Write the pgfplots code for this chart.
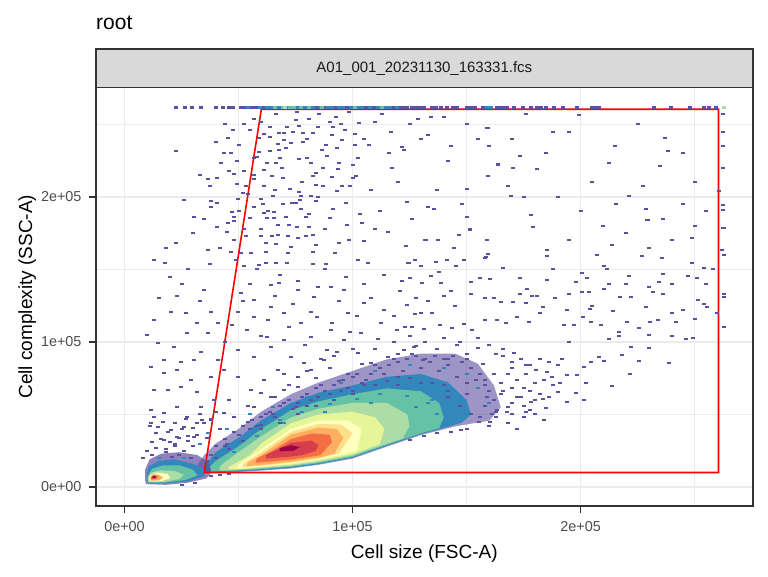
\documentclass[border=0pt]{standalone}
\usepackage{fontspec}
\setmainfont{Liberation Sans}
\usepackage{pgfplots}
\pgfplotsset{compat=1.18}
\definecolor{sp1}{HTML}{5E4FA2}
\definecolor{sp2}{HTML}{3288BD}
\definecolor{sp3}{HTML}{66C2A5}
\definecolor{sp4}{HTML}{ABDDA4}
\definecolor{sp5}{HTML}{E6F598}
\definecolor{sp6}{HTML}{FFFFBF}
\definecolor{sp7}{HTML}{FEE08B}
\definecolor{sp8}{HTML}{FDAE61}
\definecolor{sp9}{HTML}{F46D43}
\definecolor{sp10}{HTML}{D53E4F}
\definecolor{sp11}{HTML}{9E0142}
\definecolor{gridc}{HTML}{EBEBEB}
\definecolor{framec}{HTML}{333333}
\definecolor{tickc}{HTML}{4D4D4D}
\definecolor{stripc}{HTML}{D9D9D9}
\definecolor{striptext}{HTML}{1A1A1A}
\pgfdeclareplotmark{cell}{\pgfpathrectangle{\pgfqpoint{-2pt}{-1pt}}{\pgfqpoint{4pt}{2pt}}\pgfusepathqfill}
\pgfdeclareplotmark{rowcell}{\pgfpathrectangle{\pgfqpoint{-2pt}{-1.3pt}}{\pgfqpoint{4pt}{2.6pt}}\pgfusepathqfill}
\begin{document}
\begin{tikzpicture}
\useasboundingbox (0pt,0pt) rectangle (768pt,576pt);
\fill[white] (0pt,0pt) rectangle (768pt,576pt);
\begin{axis}[at={(96pt,70pt)}, anchor=south west, scale only axis,
  width=656.7pt, height=418.5pt,
  xmin=-12.5, xmax=275.5, ymin=-13.1, ymax=275.5,
  xtick={0,100,200}, ytick={0,100,200},
  minor xtick={50,150,250}, minor ytick={50,150,250},
  xticklabels={0e+00,1e+05,2e+05}, yticklabels={0e+00,1e+05,2e+05},
  grid=both,
  major grid style={gridc, line width=1.4pt},
  minor grid style={gridc, line width=0.7pt},
  tick align=outside, major tick length=7pt, minor tick length=0pt,
  xtick pos=lower, ytick pos=lower,
  tick style={framec, line width=1.5pt},
  axis line style={framec, line width=1.8pt},
  ticklabel style={font=\fontsize{14.4}{17}\selectfont, text=tickc},
  xticklabel style={yshift=-5pt},
  yticklabel style={xshift=-4pt},
  /pgf/number format/assume math mode=true,
  clip=true]
% ---- main population density bands (x, y in thousands)
\addplot[draw=none, fill=sp1, fill opacity=0.6, forget plot] coordinates {(33,9.5)(50,10.4)(60,11.3)(73,12.8)(85,15.3)(100,19.6)(115,27.8)(130,35.8)(145,41.8)(160,45.8)(165,55)(162,70)(155,85)(145,92)(130,92)(115,88)(100,80)(85,72)(73,64)(60,52)(50,40)(40,30)(35,22)(32,15)};
\addplot[only marks, mark=cell, mark options={fill=sp1, draw=none}, forget plot] coordinates {
(40,28)(44,33)(48,38)(52,42)(56,46)(60,48)(64,52)(68,56)(72,60)(76,58)(80,64)(84,68)(88,66)(92,70)(96,74)(100,76)(104,72)(108,78)(112,82)(116,84)(120,86)(124,88)(128,90)(132,88)(136,90)(140,88)(144,90)(148,86)(152,82)(156,78)(158,74)(160,66)(162,60)(163,52)(150,72)(146,76)(138,80)(130,82)(122,80)(114,78)(106,74)(98,68)(90,64)(82,60)(74,54)(66,48)(58,42)(50,36)(44,28)(38,22)(36,18)(152,50)(156,48)(158,56)(150,64)(142,62)(130,72)(120,76)(110,70)(100,66)(92,60)(84,56)(76,50)(68,44)(60,40)(52,32)(46,26)(40,20)
(54,45)(62,50)(70,58)(78,62)(86,70)(94,73)(102,78)(110,84)(118,88)(126,92)(134,86)(142,84)(150,88)(154,74)(159,62)(161,50)};
\addplot[draw=none, fill=sp2, forget plot] coordinates {(35.5,10)(50,10.9)(60,11.8)(73,13.3)(85,15.8)(100,20.2)(115,28.4)(130,36.4)(142,41.6)(148,44.5)(152,50)(150,60)(142,72)(130,78)(115,76)(100,70)(85,65)(73,58)(60,46)(50,34)(40,24)(37,18)(35,14)};
\addplot[only marks, mark=cell, mark options={fill=sp1, draw=none}, forget plot] coordinates {
(45,30)(55,40)(65,50)(75,55)(85,62)(95,66)(105,70)(115,73)(125,75)(135,72)(142,66)(147,56)(140,70)(120,70)(100,64)(80,56)(60,43)};
\addplot[draw=none, fill=sp3, forget plot] coordinates {(38,10.6)(50,11.4)(60,12.3)(73,13.9)(85,16.4)(100,20.8)(115,29)(130,37)(138,40.5)(140,48)(138,58)(130,66)(115,68)(100,64)(85,59)(73,53)(60,40)(50,28)(40,18)(37.5,14)};
\addplot[only marks, mark=cell, mark options={fill=sp2, draw=none}, forget plot] coordinates {
(48,24)(58,35)(68,46)(78,52)(90,57)(102,61)(112,64)(124,63)(133,58)(137,50)(128,55)(108,58)(88,52)(70,44)};
\addplot[draw=none, fill=sp4, forget plot] coordinates {(42,11.2)(50,11.9)(60,12.9)(73,14.6)(85,17.1)(100,21.6)(115,29.8)(122,33.5)(125,42)(124,50)(115,58)(100,58)(85,54)(73,48)(60,35)(50,24)(43,16)(41.5,13)};
\addplot[draw=none, fill=sp5, forget plot] coordinates {(46,12)(55,12.8)(60,13.5)(73,15.3)(85,17.9)(100,22.5)(112,29.5)(114,40)(110,48)(100,52)(85,50)(73,44)(60,30)(55,22)(47,15)(45.5,13.5)};
\addplot[draw=none, fill=sp6, forget plot] coordinates {(49.5,12.8)(60,14.2)(73,16.2)(85,18.9)(97,23)(102,25)(104,40)(98,46)(85,46)(73,40)(60,26)(50,15.5)};
\addplot[draw=none, fill=sp7, forget plot] coordinates {(51.5,13.6)(60,14.7)(73,16.8)(85,19.6)(94,23)(100,37)(95,43)(85,43.5)(73,38)(60,24)(52,16)};
\addplot[draw=none, fill=sp8, forget plot] coordinates {(53.5,14.5)(60,15.2)(73,17.4)(85,20.3)(92,23)(96,34)(93,40)(85,41)(73,36)(60,22)(54,16.8)};
\addplot[draw=none, fill=sp9, forget plot] coordinates {(57.5,16.8)(65,17.7)(73,18.9)(80,20.5)(86,22)(91,31)(90,36)(82,37)(73,33)(65,25)(58,19.5)};
\addplot[draw=none, fill=sp10, forget plot] coordinates {(62,19.5)(73,21)(78,22)(84,25)(85,29)(82,32)(73,30.5)(62,22)};
\addplot[draw=none, fill=sp11, forget plot] coordinates {(68,24.5)(74,25)(77,27.5)(73,28.8)(68,26.8)};
% ---- small population near origin
\addplot[draw=none, fill=sp1, fill opacity=0.7, forget plot] coordinates {(9.5,2)(18,1.5)(28,3)(36,6)(38,10)(37,17)(32,22)(24,24)(16,23)(11,19)(9,12)(9,5)};
\addplot[draw=none, fill=sp2, forget plot] coordinates {(10,2.5)(18,2.5)(28,4)(35,7.5)(35,12)(30,16)(22,19)(15,18)(10.5,14)(9.8,7)};
\addplot[draw=none, fill=sp3, forget plot] coordinates {(10.2,3)(18,3)(27,5)(32,8)(30,12)(24,15)(17,15)(12,12.5)(10,7)};
\addplot[draw=none, fill=sp4, forget plot] coordinates {(10.5,3.3)(17,3.5)(24,5.5)(26,8.5)(22,11)(16,11.5)(11.5,10)(10.3,6)};
\addplot[draw=none, fill=sp6, forget plot] coordinates {(11,3.8)(16,4)(20,6)(19,9)(14,10)(11.2,8)(10.8,5.5)};
\addplot[draw=none, fill=sp8, forget plot] coordinates {(11.4,4.4)(15,4.6)(17,6.5)(15,8.5)(12.5,8.8)(11.3,6.5)};
\addplot[draw=none, fill=sp9, forget plot] coordinates {(11.8,5.3)(14,5.4)(15,7)(13.5,8.2)(12,7.8)(11.6,6.5)};
\addplot[draw=none, fill=sp11, forget plot] coordinates {(12.2,6)(13.6,6.1)(13.8,7.4)(12.4,7.6)};
% ---- sparse events (purple bins)
\addplot[only marks, mark=cell, mark options={fill=sp1, draw=none}, forget plot] coordinates {
(66.4,257.2)(75.6,258.9)(85.4,257.2)(92.7,255.4)(98.5,258.6)(112.9,257.2)(128.5,253.8)(134.4,255.4)
(52.5,250.4)(56.9,253.8)(63.7,248.5)(71.1,248.1)(76.6,249.0)(81,253.8)(90.2,251.7)(91.5,248.5)(96.6,246.2)(102.9,250.8)
(47.4,246.2)(61.3,243.2)(67.8,243.9)(74.1,245.1)(78.4,244.4)(82.5,243.9)(91,242.8)(101,243.2)
(45.2,240.5)(58.8,240.5)(63.7,241.6)(67.1,236.3)(70,239.3)(73,237)(78.1,238.2)(88.3,235.9)(95.3,239.3)(101,235.9)(107.3,235.9)(121.5,234.7)(159.2,247.4)
(22.8,231.7)(43.7,230.6)(46.6,230.6)(59.1,230.8)(67.8,232.4)(70.8,234)(86.8,232.4)(93.4,234)(122.7,232.4)(143.1,235.2)
(42.3,223.7)(49.3,224.8)(56.9,226.7)(58.3,227.4)(62.7,223.7)(68.1,227.1)(76.6,225.9)(80,227.1)(81.7,223.7)(94.2,223.7)(102.2,226.7)(163.6,222.1)
(45.9,218.2)(52.5,218.2)(61.3,218.6)(66.4,223.7)(83.9,216.8)(87,219.8)(93.7,219.1)(117.3,220.2)
(36.4,212.2)(40.4,212.9)(48.1,215.6)(56.9,212.2)(64.9,214.5)(69.6,212.9)(82.5,214.5)(100,213.3)(101.6,214.5)(159.2,214.5)
(37.6,207.6)(49.3,208.7)(53.2,207.6)(61,207.8)(72.5,205.5)(76.6,203.2)(83.9,208.3)(87,207.8)(93.4,204.4)(95.6,207.8)(98.8,207.8)(150.4,205.5)
(37.9,197.2)(49.6,198.6)(52,202.5)(59.8,198.6)(65.2,200.7)(76.9,197.9)(81.7,200.7)(83.9,197.2)(77.6,200.7)
(37.9,193.3)(40.4,195.6)(48.1,186.4)(56.9,192.9)(60.8,195.2)(65.6,189.9)(69.6,194.9)(73.4,195.6)(77.6,191.7)(91.4,191.7)(124.1,196.3)(133.3,193.3)(135.8,191.7)
(30.3,186.4)(47.1,189.4)(48.1,183.5)(55,185.3)(61,188.7)(62.7,185.3)(65.6,185.3)(70.8,186.4)(79.5,186.4)(90.1,185.3)(103.4,188.3)(150.2,186.4)
(40.4,179.5)(45.2,182.3)(52.5,177.7)(67.1,180.7)(75.6,179.5)(80.7,179.5)(97.5,180.7)(110,177.7)(115.4,176.1)(151.6,177.7)
(48.1,170.3)(53.2,173.1)(59.8,173.3)(64.5,173.1)(67.1,173.8)(71.5,173.3)(75.9,172)(79.5,173.3)(82.5,173.8)(146.8,173.8)
(22.8,168.5)(62,168.5)(66.4,167.4)(73,165.3)(83.9,166.9)(98.5,170.3)(105.1,169.7)(132.2,170.3)(137.3,170.3)(158.9,170.3)
(36.4,163.5)(46.6,162.3)(51,161.6)(55.4,161.6)(62,162.3)(71.5,161.6)(82.8,161.8)(92.3,161.6)(123.4,166.2)(144.6,165.1)
(13,156.6)(17.8,154.7)(37.6,153.6)(48.8,156.6)(52.5,152.7)(59.1,153.1)(62,154.3)(66.4,154.7)(71.1,154.7)(82.5,153.6)(88.3,153.8)(102.2,156.6)(106.9,154.7)(124.9,154.7)(130,152.7)(141.4,156.6)(145.3,152.7)(149,156.6)(158.5,158.9)
(23.2,132)(35,135.9)(20.3,121)(32,112.9)(13,115.2)(37.9,121)(40.8,112.9)(36.4,106)(14.5,99.1)(21.8,96.8)(27.6,106)(33.5,93.4)(17.4,87.6)(24.7,86.5)(30.6,87.6)(40.8,87.6)
(51,133.6)(56.9,129)(64.2,139.4)(67.8,140.5)(75.9,135.9)(83.2,131.3)(90.5,138.2)(96.4,135.9)
(49.6,121)(56.9,117.5)(64.2,124.4)(70,119.8)(77.3,112.9)(84.6,117.5)(90.5,108.3)(97.8,119.8)(105.1,126.7)(113.9,122.1)(124.1,125.6)(130,119.8)
(53.9,108.3)(62.7,103.7)(70,101.4)(81.7,103.7)(89,94.5)(96.4,101.4)(103.7,106)(112.4,112.9)(119.7,108.3)(127,96.8)
(49.6,94.5)(56.9,89.9)(64.2,96.8)(73,89.9)(78.8,85.3)(87.6,87.6)(93.4,93.4)(102.2,92.2)(108,85.3)(115.4,89.9)(122.7,94.5)(130.7,87.6)
(11.6,83)(17.4,78.4)(23.2,80.7)(29.1,73.8)(13,66.9)(18.9,66.9)(24.7,69.2)(32,65.8)(37.9,76.1)(43.7,80.7)(49.6,76.1)
(11.6,53.2)(17.4,50.8)(23.2,55.4)(27.6,48.5)(33.5,55.4)(39.3,60)(14.5,41.7)(20.3,39.4)(26.2,41.7)(32,44)(37.9,46.3)(43.7,50.8)
(55.4,66.9)(61.3,73.8)(67.1,80.7)(75.9,76.1)(81.7,80.7)(56.9,55.4)(64.2,62.3)(70,66.9)(75.9,69.2)
(17.4,32.5)(23.2,34.8)(30.6,34.8)(36.4,37.1)(11.6,44)
(84,75)(90,82)(98,78)(104,85)(110,95)(118,100)(100,95)(92,90)(86,88)(80,80)(72,70)(66,62)(70,78)(60,65)(54,56)(48,48)(42,40)(36,34)(30,28)(24,22)(28,35)(22,30)(18,24)(40,52)(34,46)(46,60)
(10,25)(14,27)(18,26.5)(22,28)(26,25)(12,31)(16,33)(20,31)(24,34)(28,32)(32,36)(14,37)(19,38)(25,40)(30,41)(11,42)(22,44)(35,44)(38,47)(27,47)(17,45)(33,50)(13,48)(8,20)(21,21)(29,20)(12,22)
(38,7.5)(42,8.5)(46,9.2)(31,3)(25,1.5)
(142,88)(150,92)(157,85)(162,78)(158,70)(165,64)(160,58)(168,55)(163,48)(170,50)(155,96)(146,98)(137,95)(128,97)(120,92)(165,72)(172,62)(175,56)(168,44)(150,40)(160,42)(175,48)(178,53)(172,40)(180,60)(175,68)(170,82)(163,92)
(166,90)(170,86)(174,88)(178,84)(182,88)(186,86)(168,78)(172,74)(176,78)(180,72)(184,74)(188,70)(166,66)(170,68)(174,62)(178,66)(182,64)(186,62)(190,84)(192,88)(170,58)(176,52)(180,50)(184,46)
(125,104)(132,100)(140,103)(147,100)(155,103)(160,98)(166,95)(135,120)(145,125)(128,130)(140,132)
(179.2,179.5)(229.2,184.1)(262.9,178.4)(151.5,177.2)(146.9,173.8)(159.1,170.3)(137.4,170.3)(132,170.3)
(213.9,166.9)(207.3,160)(227,159.3)(235.8,158.1)(248.7,171.5)(262.1,163.4)(262.9,160)(159.4,160.4)(158,158.1)(185.4,163.4)(185.1,159.3)
(148.8,156.5)(145.2,152.6)(127.3,156.5)(124.3,154.7)(136.4,155.4)(166.1,151.2)(187.9,150.1)(200.7,147.8)(210.5,152.4)(211.7,150.1)(248.7,154.7)(254.1,151.2)
(221.2,145.5)(247.1,145.5)(251.2,144.3)(236.3,146.9)(234.3,141.1)(203,144.3)(212.4,140)(197.8,141.1)(185.4,142.7)(173.4,144.3)(160.2,143.4)(155.7,144.3)(151.8,141.1)(138.9,140.4)(134.6,145.5)(130.6,140.4)(125.4,143.9)(121.8,142)
(143,135.1)(151.8,133.1)(173.4,133.1)(176.6,136.5)(181,131.7)(194.9,133.1)(200.7,134.2)(203.7,134.2)(210.5,136.5)(217.5,130.8)(222,130.8)(230,137.7)(231.7,134.2)(236.1,133.1)(251.6,128.9)(254.1,126.2)(255.3,124.3)(262.9,130.8)(262.9,133.1)
(158.3,130.5)(162,130.1)(164.9,127.8)(170.5,127.8)(175.9,126.6)(178.8,131.7)(183.5,124.3)(188.6,130.5)(194.2,122)(204.1,122.7)(214.2,121.6)(228.8,124.3)(245,122)(250.4,115.8)(241.7,114)(230.4,114)(234,115.1)(220.5,114)(216.8,107.1)(225.6,109.4)(208.8,111.7)(204.4,114)(201,117.4)(197.1,111.7)(192.7,111.7)(182.4,119.7)(177.3,114)(172.2,117.4)(167.5,112.8)(163.4,115.1)(158.3,115.1)(152.5,108.2)(148.8,112.1)(143.7,109.4)(138.3,111.7)(131.3,108.7)(127.6,119)(123.2,110.5)(262.9,110.5)
(246.3,101.8)(249.4,102.9)(239.9,104.1)(212.4,101.8)(216.8,104.1)(222,96.7)(230,95.6)(218.3,91)(208,89.8)(204.4,86.4)(210.2,87.1)(225.6,87.1)(238.7,85.7)(201.5,83)(221.6,77.7)(213.9,69.8)(202.6,71.5)(198.5,77.2)(194.2,77.2)(197.8,64.6)(201.5,60)(193.9,58.8)(190.1,65.7)(185,54.2)(183.6,60.4)(178.1,58.8)(191.2,71.5)(187.6,76.1)(185.4,79.5)(180.3,80.7)(175.9,84.1)(170.8,92.1)(167.8,51.9)(163.4,53)(160.5,45)(155.4,45)(147.4,39.3)(143,38.1)(137.1,37)(131.3,35.1)(125.4,32.4)
(176,257.2)(199.2,256.3)(159,247.3)(187.8,244.8)(237,240.4)(238.3,231.4)(173.4,228)(163.7,222.5)(170.3,220.2)(181,219)(159.3,214.7)(212.4,223.4)(235,221.6)(168.1,207.8)(227.3,207.8)(169.4,200.9)(221.2,200.9)(215.5,195.1)(228.6,191.7)(178.2,187.3)(229.5,183.9)(236.1,184.8)(179.1,179.3)
(262.5,257.2)(262.5,244.8)(262.5,234.9)(262.5,220.2)(260.8,204.1)(262.5,194.2)(262.5,190.8)(262.5,178.3)
(44,100)(47,112)(52,128)(55,140)(58,150)(60,104)(63,115)(66,132)(68,146)(72,110)(74,126)(76,142)(79,98)(82,121)(85,138)(88,150)(91,113)(94,128)(97,145)(99,107)(102,118)(105,140)(108,130)(111,102)(114,146)(118,118)(121,135)(126,110)(133,128)(138,148)
(42,165)(45,176)(50,190)(54,202)(57,215)(60,178)(63,190)(66,205)(69,220)(72,181)(75,196)(78,210)(81,188)(85,200)(88,178)(91,214)(94,168)(97,196)(100,222)(104,182)(108,205)(112,190)(116,230)(120,210)(126,185)(130,240)(137,205)(142,225)(148,195)(155,240)
(40,238)(44,250)(50,236)(55,246)(60,252)(64,232)(70,244)(75,253)(80,240)(85,248)(89,228)(95,250)(105,240)(110,252)(117,245)(125,250)(133,243)(140,255)(150,250)(160,235)
(25,140)(28,150)(18,165)(30,175)(35,185)(26,198)(33,215)(20,145)(15,130)(10,105)(27,120)(33,128)
(170,240)(185,230)(195,245)(205,210)(215,235)(225,250)(245,230)(250,210)(255,190)(200,190)(190,200)(245,195)(240,170)(220,175)(195,170)(175,200)(210,180)(230,165)(250,180)(205,125)(220,140)(240,140)(195,100)(230,105)(255,140)(240,120)(260,120)(258,150)
};
% ---- sparse events (blue bins near the populations)
\addplot[only marks, mark=cell, mark options={fill=sp2, draw=none}, forget plot] coordinates {
(45,40)(55,50)(65,55)(80,62)(95,72)(110,80)(125,84)(140,82)(150,78)(155,68)(160,58)(36.4,37.1)(26,20)(15,20)(33,30)(135,60)(145,55)(128,75)(118,72)};
% ---- ceiling row at the top of the SSC scale
\addplot[only marks, mark=rowcell, mark options={fill=sp1, draw=none}, forget plot] coordinates {
(22.8,261.6)(26.6,261.6)(29.8,261.6)(33.5,261.6)(40.1,261.6)(43,261.6)(45.9,261.6)(47.4,261.6)(51,261.6)(52.7,261.6)(56,261.6)(57.7,261.6)(61,261.6)(84,261.6)(87.5,261.6)(92.5,261.6)(97.5,261.6)(101,261.6)(106,261.6)(109.5,261.6)(113,261.6)(118,261.6)(121,261.6)(122.6,261.6)(124,261.6)(126,261.6)(128,261.6)(129.8,261.6)(131.5,261.6)(135,261.6)(136.8,261.6)(139,261.6)(141.5,261.6)(144,261.6)(146,261.6)(150,261.6)(151.8,261.6)(153.5,261.6)(157,261.6)(163.4,261.6)(165,261.6)(167,261.6)(167.8,261.6)(171,261.6)(174.7,261.6)(178.3,261.6)(181,261.6)(182.6,261.6)(184.9,261.6)(188.3,261.6)(192.2,261.6)(198.5,261.6)(205,261.6)(206.5,261.6)(208,261.6)(232.1,261.6)(239.6,261.6)(247.8,261.6)(254,261.6)(256.2,261.6)(259.5,261.6)};
\addplot[only marks, mark=rowcell, mark options={fill=sp2, draw=none}, forget plot] coordinates {
(54.3,261.6)(59.3,261.6)(62.7,261.6)(64.4,261.6)(67.6,261.6)(71,261.6)(76,261.6)(79.2,261.6)(82.5,261.6)(85.8,261.6)(89.2,261.6)(90.8,261.6)(94.2,261.6)(95.8,261.6)(99.2,261.6)(102.6,261.6)(104.3,261.6)(107.8,261.6)(111.2,261.6)(114.6,261.6)(116.3,261.6)(119.5,261.6)(159,261.6)(160.6,261.6)};
\addplot[only marks, mark=rowcell, mark options={fill=sp3, draw=none}, forget plot] coordinates {
(66,261.6)(69.3,261.6)(72.6,261.6)(74.3,261.6)(77.6,261.6)(80.9,261.6)(86.6,261.6)(100.9,261.6)(112.9,261.6)};
\addplot[only marks, mark=rowcell, mark options={fill=sp4, draw=none}, forget plot] coordinates {
(70.2,261.6)(262.8,261.6)};
% ---- gate
\addplot[red, line width=1.6pt, mark=none, line join=miter, line cap=rect, forget plot] coordinates {(35,10)(60,260.5)(260.5,260.5)(260.5,10)(35,10)};
\end{axis}
% strip
\draw[fill=stripc, draw=framec, line width=1.8pt] (96pt,488.5pt) rectangle (752.7pt,527pt);
\node[font=\fontsize{15}{18}\selectfont, text=striptext] at (424.35pt,507.75pt) {A01\_001\_20231130\_163331.fcs};
% title
\node[anchor=base west, inner sep=0pt, font=\fontsize{21}{25}\selectfont] at (96pt,546pt) {root};
% axis titles
\node[anchor=base, inner sep=0pt, font=\fontsize{19}{23}\selectfont] at (424.35pt,17.7pt) {Cell size (FSC-A)};
\node[anchor=base, rotate=90, inner sep=0pt, font=\fontsize{19}{23}\selectfont] at (32pt,279.25pt) {Cell complexity (SSC-A)};
\end{tikzpicture}
\end{document}
